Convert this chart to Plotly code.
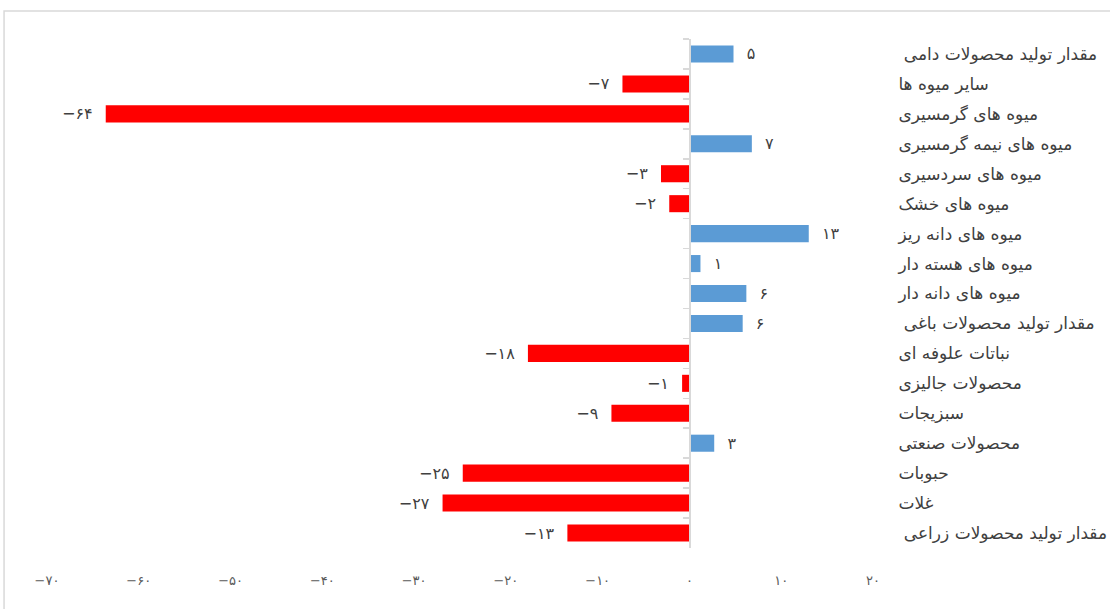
import plotly.graph_objects as go

categories = ["مقدار تولید محصولات دامی", "سایر میوه ها", "میوه های گرمسیری", "میوه های نیمه گرمسیری",
              "میوه های سردسیری", "میوه های خشک", "میوه های دانه ریز", "میوه های هسته دار",
              "میوه های دانه دار", "مقدار تولید محصولات باغی", "نباتات علوفه ای", "محصولات جالیزی",
              "سبزیجات", "محصولات صنعتی", "حبوبات", "غلات", "مقدار تولید محصولات زراعی"]
values = [4.8, -7.3, -63.6, 6.8, -3.1, -2.2, 13.0, 1.2, 6.2, 5.8, -17.6, -0.8, -8.5, 2.7, -24.7, -26.9, -13.3]
value_labels = ["۵", "−۷", "−۶۴", "۷", "−۳", "−۲", "۱۳", "۱", "۶", "۶", "−۱۸", "−۱", "−۹", "۳", "−۲۵", "−۲۷", "−۱۳"]
x_ticks = [-70, -60, -50, -40, -30, -20, -10, 0, 10, 20]
x_tick_labels = ["−۷۰", "−۶۰", "−۵۰", "−۴۰", "−۳۰", "−۲۰", "−۱۰", "۰", "۱۰", "۲۰"]

FONT = "DejaVu Sans"
POS_COLOR = "#5B9BD5"
NEG_COLOR = "#FF0000"

# labels of total rows carry a leading space in the original
shown_cats = [("\u00a0" + c) if c.startswith("مقدار") else c for c in categories]
colors = [POS_COLOR if v >= 0 else NEG_COLOR for v in values]
texts = [("\u00a0\u00a0" + t) if v >= 0 else (t + "\u00a0\u00a0") for t, v in zip(value_labels, values)]

fig = go.Figure()
fig.add_trace(go.Bar(
    x=values, y=shown_cats, orientation="h",
    marker=dict(color=colors, line=dict(width=0)),
    text=texts, textposition="outside", cliponaxis=False, constraintext="none",
    textfont=dict(family=FONT, size=16, color="#404040"),
    hoverinfo="skip", showlegend=False,
))
fig.add_trace(go.Scatter(
    x=values, y=shown_cats, yaxis="y2", mode="markers",
    marker=dict(opacity=0), hoverinfo="skip", showlegend=False,
))

xmin, xmax = x_ticks[0], x_ticks[-1]
zero_pos = (0 - xmin) / (xmax - xmin)
n = len(categories)
y_range = [n - 0.5, -0.5]

fig.update_layout(
    template="none",
    width=1110, height=609,
    margin=dict(l=47, r=237, t=39, b=61, autoexpand=False),
    paper_bgcolor="white", plot_bgcolor="white",
    bargap=0.43,
    font=dict(family=FONT, color="#404040"),
    xaxis=dict(
        range=[xmin, xmax], showgrid=False, zeroline=False, showline=False, automargin=False,
        tickvals=x_ticks, ticktext=x_tick_labels,
        ticks="outside", ticklen=20, tickcolor="rgba(0,0,0,0)",
        tickfont=dict(family=FONT, size=13, color="#595959"),
    ),
    yaxis=dict(
        type="category", categoryorder="array", categoryarray=shown_cats,
        range=y_range, autorange=False, anchor="free", position=zero_pos, side="left", automargin=False,
        showline=True, linecolor="#D9D9D9", linewidth=1.5,
        ticks="outside", ticklen=6, tickcolor="#D9D9D9", tickwidth=1.5,
        tickson="boundaries", showticklabels=False, showgrid=False, zeroline=False,
    ),
    yaxis2=dict(
        type="category", categoryorder="array", categoryarray=shown_cats,
        overlaying="y", matches="y", side="right", anchor="x", automargin=False,
        showline=False, showgrid=False, zeroline=False,
        ticks="outside", ticklen=21, tickcolor="rgba(0,0,0,0)",
        tickfont=dict(family=FONT, size=17, color="#404040"),
    ),
    shapes=[dict(
        type="rect", xref="paper", yref="paper",
        x0=-0.052, x1=1.4, y0=-0.3, y1=1.055,
        line=dict(color="#D9D9D9", width=1.5), fillcolor="rgba(0,0,0,0)", layer="below",
    )],
)

fig.write_html(
    "out.html",
    config={"displayModeBar": False, "staticPlot": True},
    post_script="document.body.style.margin='0';document.body.style.overflow='hidden';",
)
